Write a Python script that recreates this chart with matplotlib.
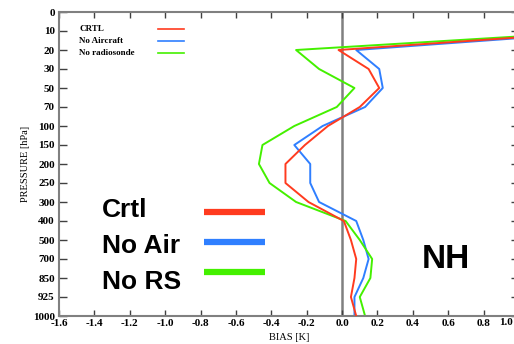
import matplotlib
matplotlib.use("Agg")
import matplotlib.pyplot as plt

# pressure levels (hPa), plotted on an evenly spaced index axis
levels = ["0", "10", "20", "30", "50", "70", "100", "150", "200", "250",
          "300", "400", "500", "700", "850", "925", "1000"]

# bias [K] from level 10 down to 1000
crtl = [1.52, -0.02, 0.15, 0.21, 0.10, -0.08, -0.21, -0.32, -0.32, -0.19,
        0.01, 0.05, 0.08, 0.07, 0.05, 0.08]
no_aircraft = [1.55, 0.08, 0.21, 0.23, 0.13, -0.11, -0.27, -0.18, -0.18, -0.13,
               0.08, 0.12, 0.15, 0.12, 0.07, 0.07]
no_radiosonde = [1.50, -0.26, -0.13, 0.07, -0.03, -0.27, -0.45, -0.47, -0.41, -0.26,
                 0.02, 0.10, 0.17, 0.16, 0.10, 0.13]

x_ticks = [-1.6, -1.4, -1.2, -1.0, -0.8, -0.6, -0.4, -0.2, 0.0, 0.2, 0.4, 0.6, 0.8, 1.0]

RED = "#ff3b1f"
BLUE = "#2f7fff"
GREEN = "#44f000"
serif = "Liberation Serif"

fig = plt.figure(figsize=(5.14, 3.44), dpi=100)
# the frame runs a little past the right edge of the picture, as in the original
ax = fig.add_axes([59 / 514, 28 / 344, 460 / 514, 304 / 344])

idx = list(range(1, len(levels)))
ax.axvline(0.0, color="#808080", lw=1.8, zorder=1)
ax.plot(crtl, idx, color=RED, lw=1.4, zorder=3)
ax.plot(no_aircraft, idx, color=BLUE, lw=1.4, zorder=2)
ax.plot(no_radiosonde, idx, color=GREEN, lw=1.4, zorder=2)

ax.set_xlim(-1.6, 1.0)
ax.set_ylim(len(levels) - 1, 0)
ax.set_yticks(range(len(levels)))
ax.set_yticklabels(levels)
ax.set_xticks(x_ticks)
# last label would fall off the picture edge; it is drawn separately below
xlabels = ["%.1f" % v for v in x_ticks]
ax.set_xticklabels(xlabels[:-1] + [""])
ax.tick_params(direction="in", top=True, right=True, width=1,
               color="#404040", labelsize=8)
ax.tick_params(axis="y", length=6, pad=3)
ax.tick_params(axis="x", length=4, pad=2)
for lab in ax.get_xticklabels() + ax.get_yticklabels():
    lab.set_fontfamily(serif)
    lab.set_fontweight("bold")
fig.text(513 / 514, 1 - 318 / 344, xlabels[-1], fontfamily=serif, fontsize=8,
         fontweight="bold", ha="right", va="top")
for sp in ax.spines.values():
    sp.set_color("#808080")
    sp.set_linewidth(1.5)

ax.set_ylabel("PRESSURE [hPa]", fontfamily=serif, fontsize=7.5, labelpad=2)
ax.set_xlabel("BIAS [K]", fontfamily=serif, fontsize=7.5, labelpad=4)

# small legend inside the axes
small = [("CRTL", RED), ("No Aircraft", BLUE), ("No radiosonde", GREEN)]
for i, (name, col) in enumerate(small):
    y = 29 + 12 * i
    fig.text(79 / 514, 1 - y / 344, name, fontfamily=serif, fontsize=6.5,
             fontweight="bold", va="center", ha="left")
    fig.add_artist(plt.Line2D([158 / 514, 184 / 514], [1 - y / 344] * 2,
                              color=col, lw=1.2))

# big legend
big = [("Crtl", RED), ("No Air", BLUE), ("No RS", GREEN)]
for i, (name, col) in enumerate(big):
    ty = 210 + 36 * i
    ly = 212 + 30 * i
    fig.text(102 / 514, 1 - ty / 344, name, fontfamily="Liberation Sans",
             fontsize=19, fontweight="bold", va="center", ha="left")
    fig.add_artist(plt.Line2D([204 / 514, 265 / 514], [1 - ly / 344] * 2,
                              color=col, lw=4.5, solid_capstyle="butt"))

fig.text(446 / 514, 1 - 259 / 344, "NH", fontfamily="Liberation Sans",
         fontsize=24, fontweight="bold", va="center", ha="center")

fig.savefig("out.png", dpi=100)
